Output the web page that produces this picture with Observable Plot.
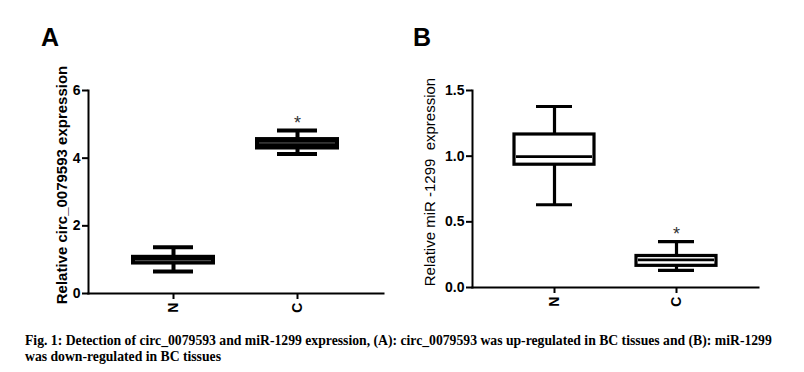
<!DOCTYPE html>
<html><head><meta charset="utf-8">
<script src="https://cdn.jsdelivr.net/npm/d3@7"></script>
<script src="https://cdn.jsdelivr.net/npm/@observablehq/plot@0.6"></script>
<style>
body{margin:0;background:#fff;}
#wrap{position:relative;width:804px;height:372px;overflow:hidden;font-family:Arial,"Liberation Sans",sans-serif;}
.panel{position:absolute;top:0;}
.letter{position:absolute;font:bold 25px Arial,"Liberation Sans",sans-serif;line-height:1;}
#cap{position:absolute;left:25px;top:333px;font:bold 13.7px "Liberation Serif","Times New Roman",serif;line-height:16px;white-space:nowrap;color:#000;}
</style></head>
<body><div id="wrap">
<div id="pa" class="panel" style="left:0"></div>
<div id="pb" class="panel" style="left:400px"></div>
<div class="letter" style="left:41px;top:25px">A</div>
<div class="letter" style="left:413px;top:25px">B</div>
<div id="cap">Fig. 1: Detection of circ_0079593 and miR-1299 expression, (A): circ_0079593 was up-regulated in BC tissues and (B): miR-1299<br>was down-regulated in BC tissues</div>
</div>
<script>
const categories = ["N", "C"];
// Panel A: circ_0079593
const aMin = [0.65, 4.12];
const aQ1 = [0.90, 4.30];
const aMed = [0.97, 4.45];
const aQ3 = [1.07, 4.55];
const aMax = [1.37, 4.82];
const aTicks = [0, 2, 4, 6];
const aLabel = "Relative circ_0079593 expression";
// Panel B: miR-1299
const bMin = [0.63, 0.13];
const bQ1 = [0.935, 0.165];
const bMed = [0.997, 0.21];
const bQ3 = [1.165, 0.24];
const bMax = [1.378, 0.35];
const bTicks = [0, 0.5, 1.0, 1.5];
const bLabel = "Relative miR -1299  expression";
const sigMark = "*";

function panel(o) {
  const rows = categories.map((c, i) => ({c, min: o.min[i], q1: o.q1[i], med: o.med[i], q3: o.q3[i], max: o.max[i]}));
  const sw = o.sw;
  return Plot.plot({
    width: o.width, height: 320,
    marginTop: 90, marginLeft: o.marginLeft, marginRight: o.marginRight, marginBottom: o.marginBottom,
    x: {type: "band", domain: categories, paddingInner: o.pi, paddingOuter: o.po},
    y: {domain: [o.ticks[0], o.ticks[o.ticks.length - 1]]},
    style: {fontFamily: "Arial, 'Liberation Sans', sans-serif", color: "#000", background: "transparent", overflow: "visible"},
    marks: [
      Plot.ruleX(rows, {x: "c", y1: "min", y2: "max", strokeWidth: sw}),
      Plot.barY(rows, {x: "c", y1: "q1", y2: "q3", fill: o.boxFill, stroke: "black", strokeWidth: sw}),
      Plot.tickY(rows, {x: "c", y: "med", stroke: o.medStroke, strokeWidth: o.medWidth, insetLeft: 2, insetRight: 2}),
      Plot.tickY(rows, {x: "c", y: "min", insetLeft: o.capInset, insetRight: o.capInset, strokeWidth: sw}),
      Plot.tickY(rows, {x: "c", y: "max", insetLeft: o.capInset, insetRight: o.capInset, strokeWidth: sw}),
      Plot.text(rows.filter(d => d.c === "C"), {x: "c", y: "max", text: () => sigMark, dy: -7, fontSize: 18, fill: "#333", lineAnchor: "middle"}),
      Plot.frame({anchor: "left", strokeWidth: 2}),
      Plot.frame({anchor: "bottom", strokeWidth: 2}),
      Plot.axisY({ticks: o.ticks, tickFormat: o.fmt, tickSize: 6, tickPadding: 2, fontSize: 14, fontWeight: "bold", strokeWidth: 2, label: null}),
      Plot.axisX({tickSize: 6, tickPadding: 3, tickRotate: -90, fontSize: 14, fontWeight: "bold", strokeWidth: 2, label: null}),
      Plot.text([o.label], {text: d => d, frameAnchor: "left", rotate: -90, dx: o.labelDx, dy: -7, fontSize: 15, fontWeight: o.labelWeight, textAnchor: "middle", lineAnchor: "middle"})
    ]
  });
}

document.getElementById("pa").append(panel({
  min: aMin, q1: aQ1, med: aMed, q3: aQ3, max: aMax, ticks: aTicks, fmt: d3.format("d"),
  width: 400, marginLeft: 88, marginRight: 17, marginBottom: 27, pi: 0.352, po: 0.356, capInset: 20, sw: 4,
  boxFill: "black", medStroke: "#999", medWidth: 0.6,
  label: aLabel, labelWeight: "bold", labelDx: -26
}));
document.getElementById("pb").append(panel({
  min: bMin, q1: bQ1, med: bMed, q3: bQ3, max: bMax, ticks: bTicks, fmt: d3.format(".1f"),
  width: 404, marginLeft: 72, marginRight: 46, marginBottom: 33, pi: 0.344, po: 0.344, capInset: 22, sw: 3.2,
  boxFill: "white", medStroke: "black", medWidth: 2.8,
  label: bLabel, labelWeight: "normal", labelDx: -42
}));
</script>
</body></html>
